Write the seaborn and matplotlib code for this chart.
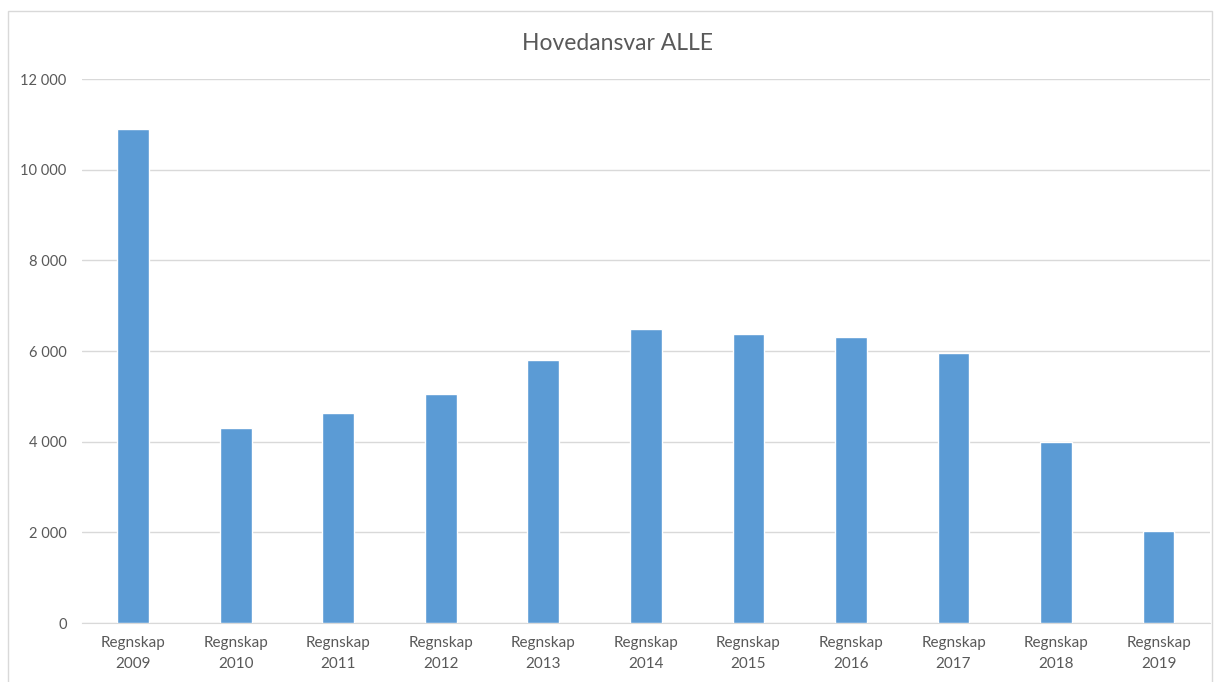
import matplotlib
matplotlib.use('Agg')
import matplotlib.pyplot as plt
import seaborn as sns
import pandas as pd
from matplotlib.patches import Rectangle
from matplotlib.ticker import FuncFormatter

years = ['2009', '2010', '2011', '2012', '2013', '2014', '2015', '2016', '2017', '2018', '2019']
values = [10900, 4300, 4625, 5060, 5795, 6490, 6370, 6310, 5950, 3990, 2020]
categories = ['Regnskap\n' + y for y in years]
title = 'Hovedansvar ALLE'

sns.set_style('white')
plt.rcParams['font.family'] = ['Lato', 'DejaVu Sans']

df = pd.DataFrame({'kategori': categories, 'verdi': values})

fig = plt.figure(figsize=(12.18, 6.82), dpi=100)
ax = fig.add_axes([0.0673, 0.0865, 0.926, 0.7975])

sns.barplot(data=df, x='kategori', y='verdi', color='#5B9BD5', width=0.31,
            saturation=1, ax=ax, zorder=3)

ax.set_ylim(0, 12000)
ax.set_xlim(-0.5, len(categories) - 0.5)
ax.set_yticks(range(0, 12001, 2000))
ax.yaxis.set_major_formatter(FuncFormatter(lambda v, p: f'{int(v):,}'.replace(',', ' ')))
ax.grid(True, axis='y', color='#D9D9D9', linewidth=1, zorder=0)
ax.set_xlabel('')
ax.set_ylabel('')
for s in ['left', 'right', 'top']:
    ax.spines[s].set_visible(False)
ax.spines['bottom'].set_color('#D9D9D9')
ax.tick_params(axis='both', length=0, colors='#595959')
ax.tick_params(axis='y', pad=11, labelsize=10.5)
ax.tick_params(axis='x', pad=9, labelsize=11)
# more room between "Regnskap" and the year, like the original
for lbl in ax.get_xticklabels():
    lbl.set_linespacing(1.7)

fig.text(0.507, 0.936, title, ha='center', va='center', fontsize=16.5, color='#595959')

# light frame round the chart area
fig.patches.append(Rectangle((8 / 1218, -0.01), 1204 / 1218, 1 - 11 / 682 + 0.01,
                             transform=fig.transFigure, fill=False,
                             edgecolor='#D9D9D9', linewidth=1))

fig.savefig('out.png', dpi=100)
